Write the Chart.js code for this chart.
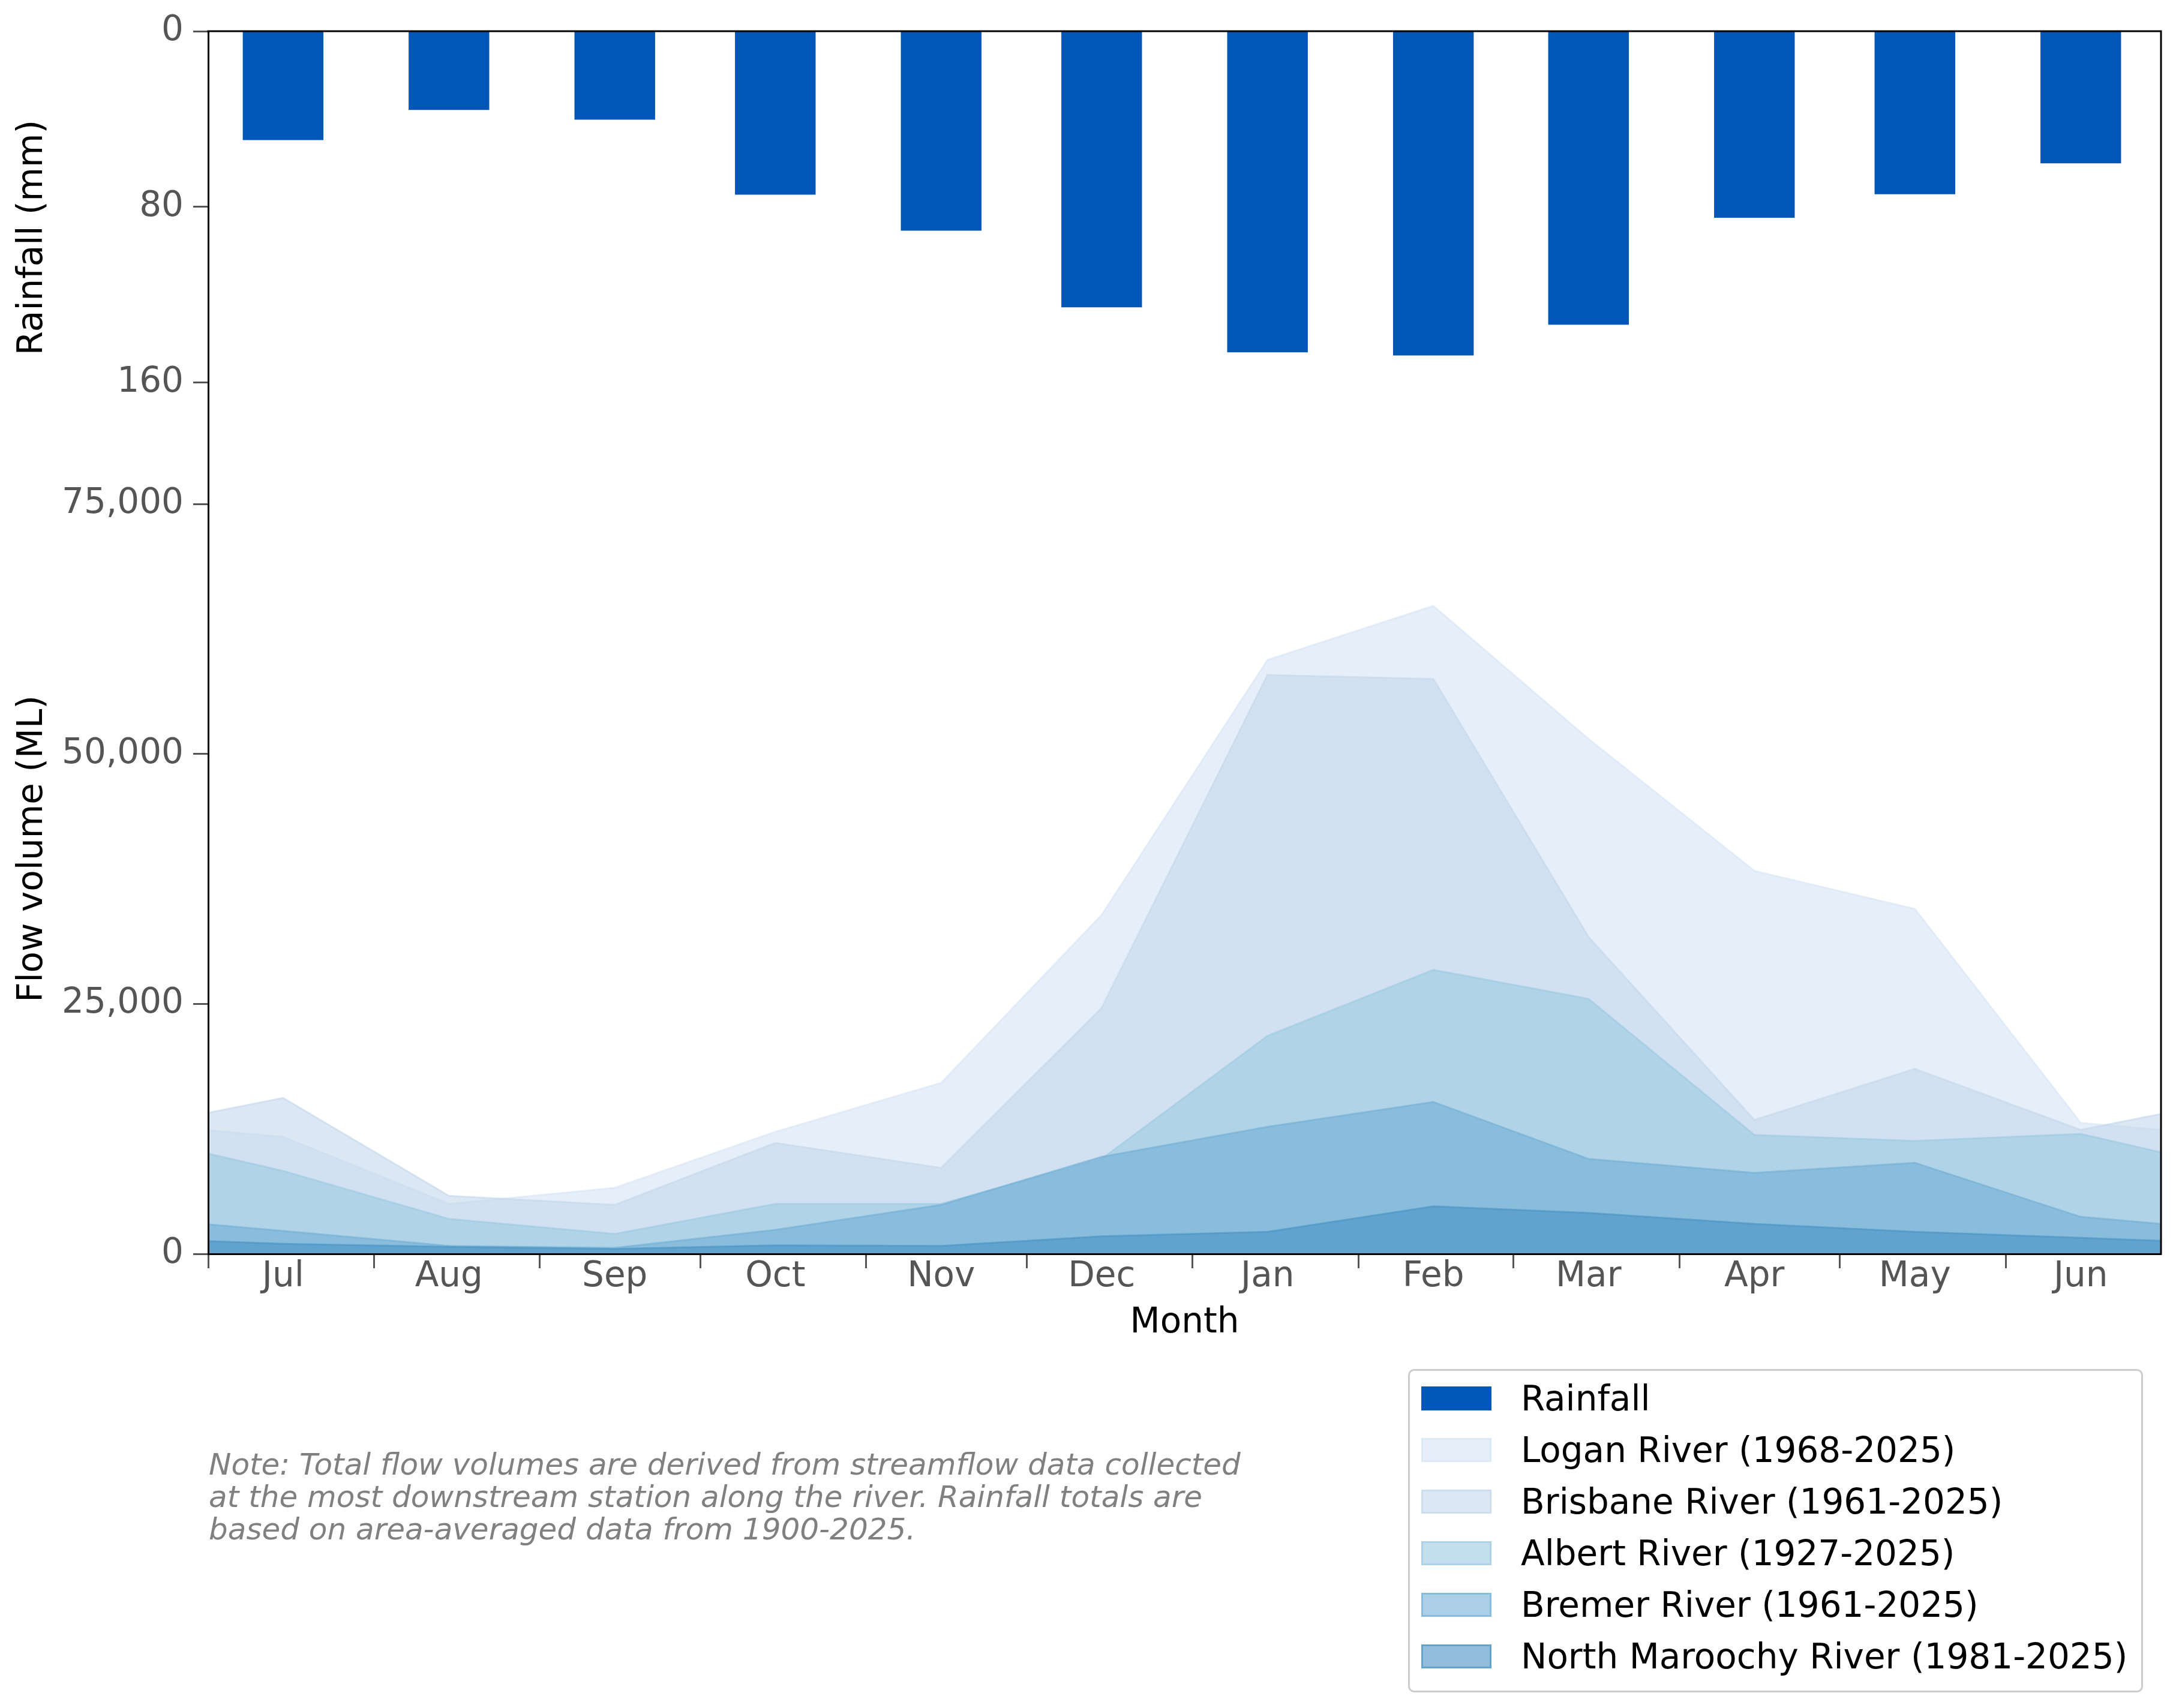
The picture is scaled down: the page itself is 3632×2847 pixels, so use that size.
<!DOCTYPE html>
<html>
<head>
<meta charset="utf-8">
<title>Monthly rainfall and river flow</title>
<script src="https://cdn.jsdelivr.net/npm/chart.js@4.4.1/dist/chart.umd.min.js"></script>
<style>
  html, body { margin: 0; padding: 0; background: #fff; }
  #wrap { position: relative; width: 3632px; height: 2847px; overflow: hidden; }
  #chart { position: absolute; left: 0; top: 0; width: 3632px; height: 2847px; }
  .note {
    position: absolute; left: 348px; top: 2414px;
    font-family: 'DejaVu Sans'; font-style: italic; font-size: 50px; line-height: 54px;
    color: #808080; white-space: pre;
  }
  .legend {
    position: absolute; left: 2347px; top: 2282px; width: 1219px; height: 530px;
    border: 3px solid #cccccc; border-radius: 10px; background: rgba(255,255,255,0.8);
    padding-top: 3px; box-sizing: content-box;
    font-family: 'DejaVu Sans'; font-size: 58px; color: #000;
  }
  .legend .row { display: flex; align-items: center; height: 86px; }
  .legend .sw { width: 117px; height: 40px; margin-left: 19px; margin-right: 49px; box-sizing: border-box; }
</style>
</head>
<body>
<div id="wrap">
  <canvas id="chart" width="3632" height="2847"></canvas>
  <div class="note">Note: Total flow volumes are derived from streamflow data collected
at the most downstream station along the river. Rainfall totals are
based on area-averaged data from 1900-2025.</div>
  <div class="legend" id="legend"></div>
</div>
<script>
// months of the water year (Jul 2023 - Jun 2024, so Feb has 29 days)
const MONTHS = ['Jul', 'Aug', 'Sep', 'Oct', 'Nov', 'Dec', 'Jan', 'Feb', 'Mar', 'Apr', 'May', 'Jun'];
const MONTH_LENGTHS = [31, 31, 30, 31, 30, 31, 31, 29, 31, 30, 31, 30];

// mean monthly rainfall (mm)
const RAINFALL = [49.5, 35.8, 40.2, 74.4, 90.8, 125.7, 146.2, 147.6, 133.6, 84.9, 74.2, 60.1];

// mean monthly flow volume (ML)
const LOGAN    = [11700, 5000, 6600, 12200, 17100, 33900, 59400, 64800, 51500, 38300, 34500, 13100];
const BRISBANE = [15600, 5800, 4900, 11100, 8600, 24600, 57900, 57500, 31700, 13400, 18500, 12400];
const ALBERT   = [8300, 3500, 2000, 5000, 5000, 9500, 21800, 28400, 25500, 11900, 11300, 12000];
const BREMER   = [2300, 800, 600, 2400, 4900, 9700, 12700, 15200, 9500, 8100, 9100, 3700];
const MAROOCHY = [1000, 700, 500, 850, 800, 1750, 2200, 4750, 4100, 3000, 2200, 1600];

const RAIN_TICKS = [0, 80, 160];
const FLOW_TICKS = [0, 25000, 50000, 75000];

const RAIN_COLOR = '#0057b8';
const AREA_ALPHA = 0.6;
const RIVERS = [
  { name: 'Logan River (1968-2025)', values: LOGAN, rgb: [213, 228, 245] },
  { name: 'Brisbane River (1961-2025)', values: BRISBANE, rgb: [195, 215, 235] },
  { name: 'Albert River (1927-2025)', values: ALBERT, rgb: [155, 202, 225] },
  { name: 'Bremer River (1961-2025)', values: BREMER, rgb: [113, 175, 213] },
  { name: 'North Maroochy River (1981-2025)', values: MAROOCHY, rgb: [70, 147, 197] }
];

const YEAR_DAYS = MONTH_LENGTHS.reduce((a, b) => a + b, 0);
const MONTH_START = [];
let acc = 0;
MONTH_LENGTHS.forEach(n => { MONTH_START.push(acc); acc += n; });
const MID_DAYS = MONTH_START.map(d => d + 14);   // the 15th of each month
const X_MAX = YEAR_DAYS - 1;                      // axis runs 1 Jul .. 30 Jun
const BAR_DAYS = 15;

const rgba = (c, a) => `rgba(${c[0]}, ${c[1]}, ${c[2]}, ${a})`;

// the year wraps round: June before July and July after June, clipped by the axis
function cyclePoints(values) {
  const n = values.length;
  const pts = MID_DAYS.map((d, i) => ({ x: d, y: values[i] }));
  pts.unshift({ x: MID_DAYS[n - 1] - YEAR_DAYS, y: values[n - 1] });
  pts.push({ x: MID_DAYS[0] + YEAR_DAYS, y: values[0] });
  return pts;
}

Chart.defaults.font.family = "'DejaVu Sans'";
Chart.defaults.font.size = 58;
Chart.defaults.color = '#555';

const font = { family: "'DejaVu Sans'", size: 58 };
const grid = { display: true, drawOnChartArea: false, drawTicks: true, tickLength: 25, tickWidth: 3, tickColor: '#555' };
const border = { display: true, color: '#000', width: 3, z: 1 };

const riverSets = RIVERS.slice().reverse().map(r => ({
  type: 'line',
  label: r.name,
  data: cyclePoints(r.values),
  xAxisID: 'x',
  yAxisID: 'yFlow',
  fill: 'origin',
  backgroundColor: rgba(r.rgb, AREA_ALPHA),
  borderColor: rgba(r.rgb, AREA_ALPHA),
  borderWidth: 3,
  pointRadius: 0,
  tension: 0
}));

const spines = {
  id: 'spines',
  afterDraw(chart) {
    const { ctx, chartArea: a } = chart;
    ctx.save();
    ctx.strokeStyle = '#000';
    ctx.lineWidth = 3;
    ctx.lineCap = 'square';
    ctx.beginPath();
    ctx.moveTo(a.left, a.top);
    ctx.lineTo(a.right, a.top);
    ctx.lineTo(a.right, a.bottom);
    ctx.stroke();
    ctx.restore();
  }
};

const chart = new Chart(document.getElementById('chart'), {
  type: 'line',
  data: {
    datasets: [{
      type: 'bar',
      label: 'Rainfall',
      data: MID_DAYS.map((d, i) => ({ x: d, y: RAINFALL[i] })),
      xAxisID: 'x',
      yAxisID: 'yRain',
      backgroundColor: RAIN_COLOR,
      borderWidth: 0
    }].concat(riverSets)
  },
  options: {
    responsive: false,
    devicePixelRatio: 1,
    animation: false,
    layout: { padding: { top: 52, right: 30, bottom: 597, left: 0 } },
    plugins: { legend: { display: false }, tooltip: { enabled: false } },
    scales: {
      x: {
        type: 'linear', min: 0, max: X_MAX, offset: false,
        afterBuildTicks: s => {
          s.ticks = MONTH_START.concat(MID_DAYS).sort((a, b) => a - b).map(v => ({ value: v }));
        },
        afterFit: s => { s.height = 160; },
        grid: Object.assign({}, grid, {
          offset: false, tickLength: 24,
          tickColor: ctx => (ctx.tick && MONTH_START.includes(ctx.tick.value)) ? '#555' : 'rgba(0,0,0,0)'
        }),
        border: border,
        ticks: {
          autoSkip: false, maxRotation: 0, minRotation: 0, padding: -20,
          color: '#555', font: font,
          callback: v => { const i = MID_DAYS.indexOf(v); return i >= 0 ? MONTHS[i] : ''; }
        },
        title: { display: true, text: 'Month', color: '#000', font: font, padding: { top: 0, bottom: 9 } }
      },
      yFlow: {
        type: 'linear', position: 'left', stack: 'panels', stackWeight: 1350, weight: 0,
        min: 0, max: 81000,
        afterBuildTicks: s => { s.ticks = FLOW_TICKS.map(v => ({ value: v })); },
        afterFit: s => { s.width = 347; },
        grid: grid,
        border: border,
        ticks: { padding: 16, color: '#555', font: font, callback: v => Number(v).toLocaleString('en-US') },
        title: { display: true, text: 'Flow volume (ML)', color: '#000', font: font, padding: { top: 20, bottom: 0 } }
      },
      yRain: {
        type: 'linear', position: 'left', stack: 'panels', stackWeight: 688, weight: 1,
        reverse: true, min: 0, max: 188,
        afterBuildTicks: s => { s.ticks = RAIN_TICKS.map(v => ({ value: v })); },
        afterFit: s => { s.width = 347; },
        grid: grid,
        border: border,
        ticks: { padding: 16, color: '#555', font: font },
        title: { display: true, text: 'Rainfall (mm)', color: '#000', font: font, padding: { top: 20, bottom: 0 } }
      }
    }
  },
  plugins: [spines]
});

// bars are 15 days wide
const xs = chart.scales.x;
chart.data.datasets[0].barThickness = xs.getPixelForValue(BAR_DAYS) - xs.getPixelForValue(0);
chart.update('none');

// legend
const legend = document.getElementById('legend');
const items = [{ name: 'Rainfall', fill: RAIN_COLOR, edge: 'transparent' }]
  .concat(RIVERS.map(r => ({ name: r.name, fill: rgba(r.rgb, AREA_ALPHA), edge: rgba(r.rgb, AREA_ALPHA) })));
items.forEach(it => {
  const row = document.createElement('div');
  row.className = 'row';
  const sw = document.createElement('div');
  sw.className = 'sw';
  sw.style.background = it.fill;
  sw.style.border = '3px solid ' + it.edge;
  const tx = document.createElement('span');
  tx.textContent = it.name;
  row.appendChild(sw);
  row.appendChild(tx);
  legend.appendChild(row);
});
</script>
</body>
</html>
